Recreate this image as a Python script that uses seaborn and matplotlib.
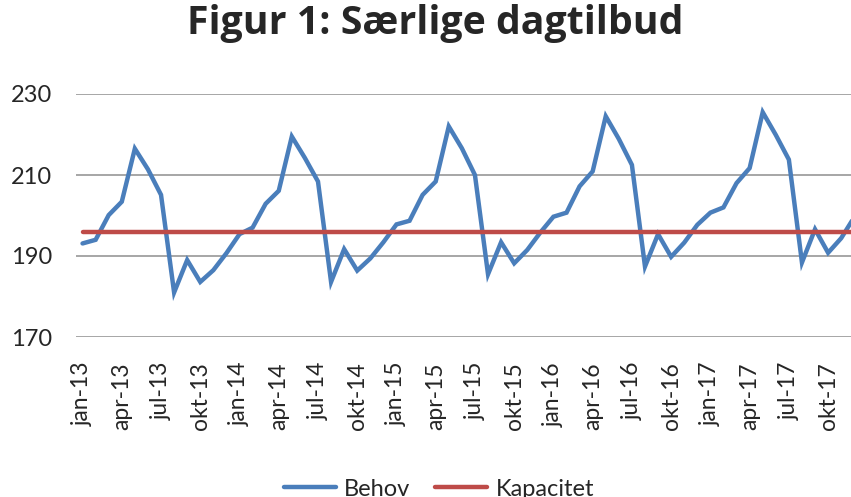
import matplotlib
matplotlib.use("Agg")
import matplotlib.pyplot as plt
import seaborn as sns
import pandas as pd
import numpy as np

# ---- data ----
month_names = ["jan", "feb", "mar", "apr", "maj", "jun", "jul", "aug", "sep", "okt", "nov", "dec"]
years = ["13", "14", "15", "16", "17"]
months = [f"{m}-{y}" for y in years for m in month_names]

behov = [193.1, 194.0, 200.1, 203.4, 216.5, 211.4, 205.1, 181.0, 189.0, 183.6, 186.5, 190.7,
         195.4, 197.0, 202.9, 206.1, 219.5, 214.2, 208.4, 183.6, 191.7, 186.4, 189.4, 193.4,
         197.8, 198.7, 205.1, 208.4, 222.0, 216.6, 210.0, 185.5, 193.4, 188.2, 191.5, 195.8,
         199.7, 200.7, 207.2, 210.9, 224.5, 218.9, 212.5, 187.4, 195.4, 189.8, 193.3, 197.7,
         200.7, 202.0, 208.0, 211.7, 225.5, 219.9, 213.8, 188.4, 196.6, 190.8, 194.4, 199.6]
kapacitet = [196.0] * len(months)

series_names = ["Behov", "Kapacitet"]
yticks = [170, 190, 210, 230]

df = pd.DataFrame({
    "idx": list(range(len(months))) * 2,
    "value": behov + kapacitet,
    "serie": [series_names[0]] * len(months) + [series_names[1]] * len(months),
})

sns.set_theme(style="white")
plt.rcParams["font.family"] = ["Lato", "DejaVu Sans"]

fig = plt.figure(figsize=(8.51, 4.97), dpi=100)
ax = fig.add_axes([76 / 851, 1 - 337 / 497, 1 - 76 / 851, (337 - 94) / 497])

palette = {"Behov": "#4a7ebb", "Kapacitet": "#be4b48"}
sns.lineplot(data=df, x="idx", y="value", hue="serie", palette=palette,
             linewidth=3.2, ax=ax, legend=False, zorder=3)
for l in ax.lines:
    l.set_solid_capstyle("round")
    l.set_solid_joinstyle("miter")

ax.set_xlim(-0.5, 58.75)
ax.set_ylim(170, 230)
ax.set_yticks(yticks)
ax.set_yticklabels([str(v) for v in yticks], fontsize=17)
tick_pos = list(range(0, len(months), 3))
ax.set_xticks(tick_pos)
ax.set_xticklabels([months[i] for i in tick_pos], rotation=90, fontsize=16.5)
ax.tick_params(axis="y", length=0, pad=17)
ax.tick_params(axis="x", length=0, pad=18)
ax.grid(axis="y", color="#a6a6a6", linewidth=1.4)
ax.grid(axis="x", visible=False)
for s in ax.spines.values():
    s.set_visible(False)
ax.set_xlabel("")
ax.set_ylabel("")

fig.text(0.511, 1 - 34 / 497, "Figur 1: Særlige dagtilbud", ha="center", va="baseline",
         fontsize=28.3, fontweight="bold", family=["Open Sans", "DejaVu Sans"])

handles = [plt.Line2D([], [], color=palette[n], linewidth=3.2, solid_capstyle="round") for n in series_names]
fig.legend(handles, series_names, loc="center", bbox_to_anchor=(0.516, 0.016),
           ncol=2, frameon=False, fontsize=17, handlelength=2.2, handletextpad=0.35,
           columnspacing=1.05)

fig.savefig("out.png", dpi=100)
